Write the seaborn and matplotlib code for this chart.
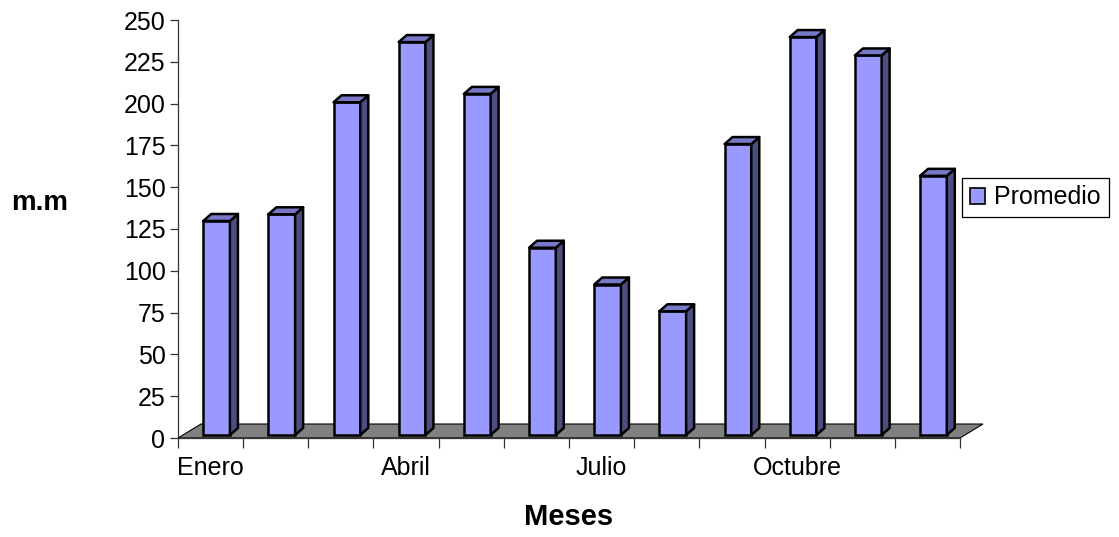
import matplotlib
matplotlib.use("Agg")
import matplotlib.pyplot as plt
import seaborn as sns
import pandas as pd
from matplotlib.patches import Polygon, Rectangle
from matplotlib.transforms import ScaledTranslation

# Monthly average rainfall (mm)
meses = ["Enero", "Febrero", "Marzo", "Abril", "Mayo", "Junio", "Julio",
         "Agosto", "Septiembre", "Octubre", "Noviembre", "Diciembre"]
promedio = [128, 132, 199, 235, 204, 112, 90, 74, 174, 238, 227, 155]
etiquetas = ["Enero", "Abril", "Julio", "Octubre"]
y_ticks = list(range(0, 251, 25))

df = pd.DataFrame({"Mes": meses, "Promedio": promedio})

FRONT = "#9999FF"
SIDE = "#4D4D80"
TOP = "#7878C8"
FLOOR = "#808080"

sns.set_style("white")
plt.rcParams["font.family"] = ["Liberation Sans", "DejaVu Sans"]
plt.rcParams["text.color"] = "black"
plt.rcParams["axes.labelcolor"] = "black"

W, H, DPI = 1119, 537, 100
fig = plt.figure(figsize=(W / DPI, H / DPI), dpi=DPI)
ax_l, ax_r, ax_t, ax_b = 178, 960, 20, 438
ax = fig.add_axes([ax_l / W, (H - ax_b) / H, (ax_r - ax_l) / W, (ax_b - ax_t) / H])

sns.barplot(data=df, x="Mes", y="Promedio", color=FRONT, saturation=1,
            width=0.41, edgecolor="black", linewidth=1.8, ax=ax,
            label="Promedio", zorder=3)

n = len(meses)
ax.set_xlim(-0.5, n - 0.5)
ax.set_ylim(y_ticks[0], y_ticks[-1])

# pixel scale of the data axes
px_x = (ax_r - ax_l) / n
px_y = (ax_b - ax_t) / (y_ticks[-1] - y_ticks[0])

# 3D extrusion of each column
ddx, ddy = 8 / px_x, 7 / px_y
shift = ax.transData + ScaledTranslation(6 / DPI, 3 / DPI, fig.dpi_scale_trans)
bars = [p for p in ax.patches if isinstance(p, Rectangle)]
for p in bars:
    x0, w, h = p.get_x(), p.get_width(), p.get_height()
    p.set_transform(shift)
    p.set_clip_on(False)
    side = Polygon([(x0 + w, 0), (x0 + w + ddx, ddy), (x0 + w + ddx, h + ddy), (x0 + w, h)],
                   closed=True, fc=SIDE, ec="black", lw=1.8, joinstyle="round",
                   transform=shift, zorder=3, clip_on=False)
    top = Polygon([(x0, h), (x0 + ddx, h + ddy), (x0 + w + ddx, h + ddy), (x0 + w, h)],
                  closed=True, fc=TOP, ec="black", lw=1.8, joinstyle="round",
                  transform=shift, zorder=3, clip_on=False)
    ax.add_patch(side)
    ax.add_patch(top)

# gray floor under the columns
fdx, fdy = 23 / px_x, 14 / px_y
floor = Polygon([(-0.5, 0), (n - 0.5, 0), (n - 0.5 + fdx, fdy), (-0.5 + fdx, fdy)],
                closed=True, fc=FLOOR, ec="black", lw=0.8, zorder=1, clip_on=False)
ax.add_patch(floor)

# axes styling
for s in ["top", "right"]:
    ax.spines[s].set_visible(False)
for s in ["left", "bottom"]:
    ax.spines[s].set_color("#333333")
    ax.spines[s].set_linewidth(0.9)

ax.set_yticks(y_ticks)
ax.tick_params(axis="y", left=True, direction="out", length=6, width=0.9,
               color="#333333", pad=3, labelsize=18, labelcolor="black")

ax.set_xticks([i - 0.5 for i in range(n + 1)], labels=[""] * (n + 1))
ax.set_xticks([meses.index(e) for e in etiquetas], labels=etiquetas, minor=True)
ax.tick_params(axis="x", which="major", bottom=True, direction="out", length=7,
               width=0.9, color="#333333")
ax.tick_params(axis="x", which="minor", bottom=True, length=0, pad=13,
               labelsize=18, labelcolor="black")

ax.set_ylabel("m.m", rotation=0, fontsize=20, fontweight="bold", ha="center", va="center")
ax.yaxis.set_label_coords((40 - ax_l) / (ax_r - ax_l), (ax_b - 203) / (ax_b - ax_t))
ax.set_xlabel("Meses", fontsize=21, fontweight="bold", va="center")
ax.xaxis.set_label_coords(0.5, (ax_b - 517) / (ax_b - ax_t))

handles, labels = ax.get_legend_handles_labels()
leg = ax.legend(handles, labels, loc="center left",
                bbox_to_anchor=(962 / W, (H - 197.5) / H), bbox_transform=fig.transFigure,
                frameon=True, fancybox=False, edgecolor="black", framealpha=1,
                fontsize=18, handlelength=0.6, handleheight=0.6, handletextpad=0.4,
                borderpad=0.3, borderaxespad=0)
leg.get_frame().set_linewidth(0.9)
for hd in leg.legend_handles:
    hd.set_linewidth(1.2)

fig.savefig("out.png", dpi=DPI)
